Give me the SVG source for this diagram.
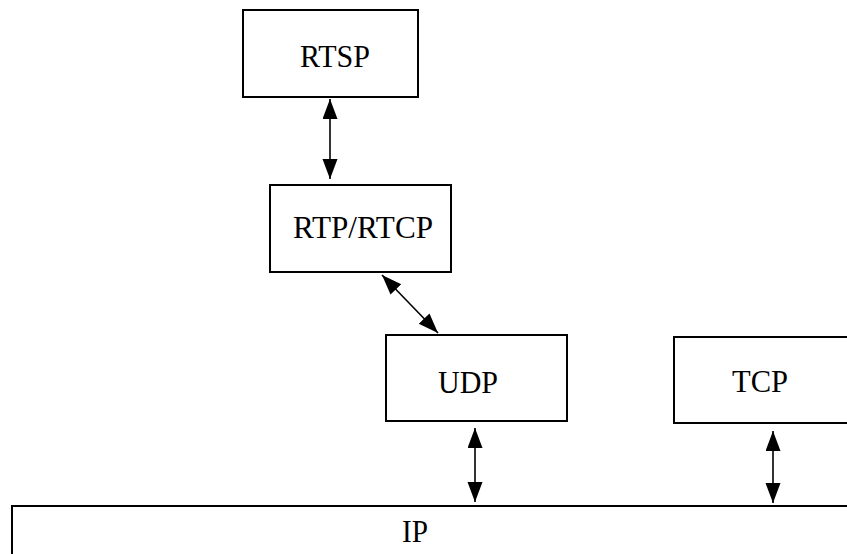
<svg xmlns="http://www.w3.org/2000/svg" width="847" height="554" viewBox="0 0 847 554">
  <style>
    .box { fill: #ffffff; stroke: #000000; stroke-width: 2; }
    .label { font-family: "Liberation Serif", "Times New Roman", serif; font-size: 31px; fill: #000000; }
    .link { stroke: #000000; stroke-width: 1.6; fill: none; marker-start: url(#head); marker-end: url(#head); }
  </style>
  <defs>
    <!-- filled triangular arrowhead used at both ends of every link -->
    <marker id="head" markerUnits="userSpaceOnUse" markerWidth="22" markerHeight="18" refX="20" refY="7.5" orient="auto-start-reverse">
      <path d="M0,0 L20,7.5 L0,15 Z" fill="#000000"/>
    </marker>
  </defs>
  <rect width="847" height="554" fill="#ffffff"/>

  <g id="rtsp">
    <rect class="box" x="243" y="10" width="175" height="87"/>
    <text class="label" x="300" y="67" textLength="70" lengthAdjust="spacingAndGlyphs">RTSP</text>
  </g>
  <g id="rtp-rtcp">
    <rect class="box" x="270" y="185" width="181" height="87"/>
    <text class="label" x="293" y="238" textLength="140" lengthAdjust="spacingAndGlyphs">RTP/RTCP</text>
  </g>
  <g id="udp">
    <rect class="box" x="386" y="335" width="181" height="86"/>
    <text class="label" x="438" y="393" textLength="60" lengthAdjust="spacingAndGlyphs">UDP</text>
  </g>
  <g id="tcp">
    <rect class="box" x="674" y="337" width="190" height="86"/>
    <text class="label" x="732" y="392" textLength="56" lengthAdjust="spacingAndGlyphs">TCP</text>
  </g>
  <g id="ip">
    <rect class="box" x="12" y="506" width="850" height="60"/>
    <text class="label" x="402" y="542" textLength="26" lengthAdjust="spacingAndGlyphs">IP</text>
  </g>

  <g id="connectors">
    <line class="link" x1="330" y1="99" x2="330" y2="179"/>
    <line class="link" x1="382" y1="275" x2="438" y2="333"/>
    <line class="link" x1="475" y1="428" x2="475" y2="502"/>
    <line class="link" x1="773" y1="431" x2="773" y2="503"/>
  </g>
</svg>
